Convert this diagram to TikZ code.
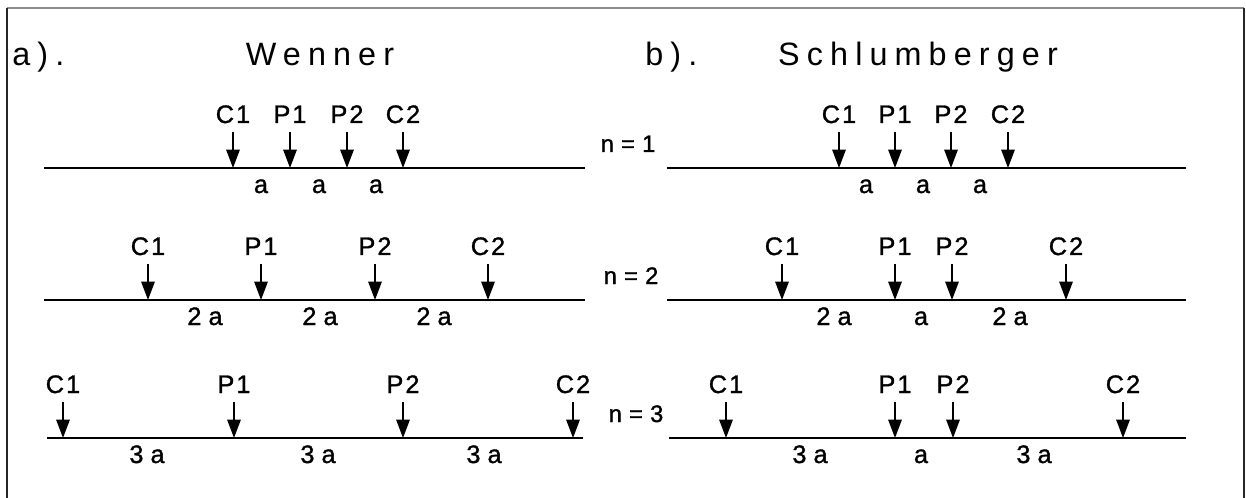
\documentclass[tikz,border=0pt]{standalone}
\usepackage{fontspec}
\setmainfont{Liberation Sans}
\newfontfamily\titlefont[LetterSpace=22]{Liberation Sans}
\newfontfamily\labelfont[LetterSpace=8,FakeBold=1.2]{Liberation Sans}
\newfontfamily\gapfont[LetterSpace=28,FakeBold=1.2]{Liberation Sans}
\newfontfamily\eqfont[LetterSpace=2,FakeBold=1.2]{Liberation Sans}
\usetikzlibrary{arrows.meta,positioning}

\begin{document}
\begin{tikzpicture}[x=0.025cm,y=-0.025cm,
  every node/.style={inner sep=0pt,anchor=base,font=\labelfont\fontsize{18}{20}\selectfont},
  title/.style={font=\titlefont\fontsize{23}{25}\selectfont},
  gap/.style={font=\gapfont\fontsize{18}{20}\selectfont},
  nlabel/.style={font=\eqfont\fontsize{17}{19}\selectfont},
  elec/.style={line width=1.2pt,-{Triangle[length=13pt,width=9.5pt]}},
  ground/.style={line width=1.6pt}]
\useasboundingbox (0,0) rectangle (1246,498);
% frame
\draw[line width=1.2pt,black!45] (7,8) -- (1244,8);
\draw[line width=1.2pt,black!85] (7,8) -- (7,498);
\draw[line width=1.2pt,black!85] (1244,8) -- (1244,498);
% titles
\node[title,anchor=base west] (ta) at (12,66) {a).};
\node[title] (tw) at (320,66) {Wenner};
\node[title,anchor=base west] (tb) at (645,66) {b).};
\node[title] (ts) at (918,66) {Schlumberger};
% Wenner, n = 1
\coordinate (wal) at (44,168); \coordinate (war) at (585,168); \draw[ground] (wal)--(war);
\coordinate (wa1t) at (233,132); \coordinate (wa1) at (233,168); \draw[elec] (wa1t)--(wa1); \node (wa1l) at (233,123) {C1};
\coordinate (wa2t) at (290,132); \coordinate (wa2) at (290,168); \draw[elec] (wa2t)--(wa2); \node (wa2l) at (290,123) {P1};
\coordinate (wa3t) at (347,132); \coordinate (wa3) at (347,168); \draw[elec] (wa3t)--(wa3); \node (wa3l) at (347,123) {P2};
\coordinate (wa4t) at (403,132); \coordinate (wa4) at (403,168); \draw[elec] (wa4t)--(wa4); \node (wa4l) at (403,123) {C2};
\node (wad1) at (261,193) {a}; \node (wad2) at (319,193) {a}; \node (wad3) at (376,193) {a};
% Wenner, n = 2
\coordinate (wbl) at (44,300); \coordinate (wbr) at (585,300); \draw[ground] (wbl)--(wbr);
\coordinate (wb1t) at (148,264); \coordinate (wb1) at (148,300); \draw[elec] (wb1t)--(wb1); \node (wb1l) at (148,255) {C1};
\coordinate (wb2t) at (261,264); \coordinate (wb2) at (261,300); \draw[elec] (wb2t)--(wb2); \node (wb2l) at (261,255) {P1};
\coordinate (wb3t) at (375,264); \coordinate (wb3) at (375,300); \draw[elec] (wb3t)--(wb3); \node (wb3l) at (375,255) {P2};
\coordinate (wb4t) at (488,264); \coordinate (wb4) at (488,300); \draw[elec] (wb4t)--(wb4); \node (wb4l) at (488,255) {C2};
\node[gap] (wbd1) at (205,325) {2a}; \node[gap] (wbd2) at (320,325) {2a}; \node[gap] (wbd3) at (434,325) {2a};
% Wenner, n = 3
\coordinate (wcl) at (47,438); \coordinate (wcr) at (583,438); \draw[ground] (wcl)--(wcr);
\coordinate (wc1t) at (63,402); \coordinate (wc1) at (63,438); \draw[elec] (wc1t)--(wc1); \node (wc1l) at (63,393) {C1};
\coordinate (wc2t) at (234,402); \coordinate (wc2) at (234,438); \draw[elec] (wc2t)--(wc2); \node (wc2l) at (234,393) {P1};
\coordinate (wc3t) at (403,402); \coordinate (wc3) at (403,438); \draw[elec] (wc3t)--(wc3); \node (wc3l) at (403,393) {P2};
\coordinate (wc4t) at (573,402); \coordinate (wc4) at (573,438); \draw[elec] (wc4t)--(wc4); \node (wc4l) at (573,393) {C2};
\node[gap] (wcd1) at (147,463) {3a}; \node[gap] (wcd2) at (318,463) {3a}; \node[gap] (wcd3) at (484,463) {3a};
% n values
\node[nlabel] (n1) at (628,152) {n = 1};
\node[nlabel] (n2) at (631,284) {n = 2};
\node[nlabel] (n3) at (636,422) {n = 3};
% Schlumberger, n = 1
\coordinate (sal) at (667,168); \coordinate (sar) at (1186,168); \draw[ground] (sal)--(sar);
\coordinate (sa1t) at (839,132); \coordinate (sa1) at (839,168); \draw[elec] (sa1t)--(sa1); \node (sa1l) at (839,123) {C1};
\coordinate (sa2t) at (895,132); \coordinate (sa2) at (895,168); \draw[elec] (sa2t)--(sa2); \node (sa2l) at (895,123) {P1};
\coordinate (sa3t) at (951,132); \coordinate (sa3) at (951,168); \draw[elec] (sa3t)--(sa3); \node (sa3l) at (951,123) {P2};
\coordinate (sa4t) at (1008,132); \coordinate (sa4) at (1008,168); \draw[elec] (sa4t)--(sa4); \node (sa4l) at (1008,123) {C2};
\node (sad1) at (866,193) {a}; \node (sad2) at (923,193) {a}; \node (sad3) at (980,193) {a};
% Schlumberger, n = 2
\coordinate (sbl) at (667,300); \coordinate (sbr) at (1186,300); \draw[ground] (sbl)--(sbr);
\coordinate (sb1t) at (782,264); \coordinate (sb1) at (782,300); \draw[elec] (sb1t)--(sb1); \node (sb1l) at (782,255) {C1};
\coordinate (sb2t) at (895,264); \coordinate (sb2) at (895,300); \draw[elec] (sb2t)--(sb2); \node (sb2l) at (895,255) {P1};
\coordinate (sb3t) at (952,264); \coordinate (sb3) at (952,300); \draw[elec] (sb3t)--(sb3); \node (sb3l) at (952,255) {P2};
\coordinate (sb4t) at (1066,264); \coordinate (sb4) at (1066,300); \draw[elec] (sb4t)--(sb4); \node (sb4l) at (1066,255) {C2};
\node[gap] (sbd1) at (834,325) {2a}; \node (sbd2) at (921,325) {a}; \node[gap] (sbd3) at (1010,325) {2a};
% Schlumberger, n = 3
\coordinate (scl) at (669,438); \coordinate (scr) at (1186,438); \draw[ground] (scl)--(scr);
\coordinate (sc1t) at (726,402); \coordinate (sc1) at (726,438); \draw[elec] (sc1t)--(sc1); \node (sc1l) at (726,393) {C1};
\coordinate (sc2t) at (895,402); \coordinate (sc2) at (895,438); \draw[elec] (sc2t)--(sc2); \node (sc2l) at (895,393) {P1};
\coordinate (sc3t) at (953,402); \coordinate (sc3) at (953,438); \draw[elec] (sc3t)--(sc3); \node (sc3l) at (953,393) {P2};
\coordinate (sc4t) at (1123,402); \coordinate (sc4) at (1123,438); \draw[elec] (sc4t)--(sc4); \node (sc4l) at (1123,393) {C2};
\node[gap] (scd1) at (810,463) {3a}; \node (scd2) at (921,463) {a}; \node[gap] (scd3) at (1034,463) {3a};
\end{tikzpicture}
\end{document}
